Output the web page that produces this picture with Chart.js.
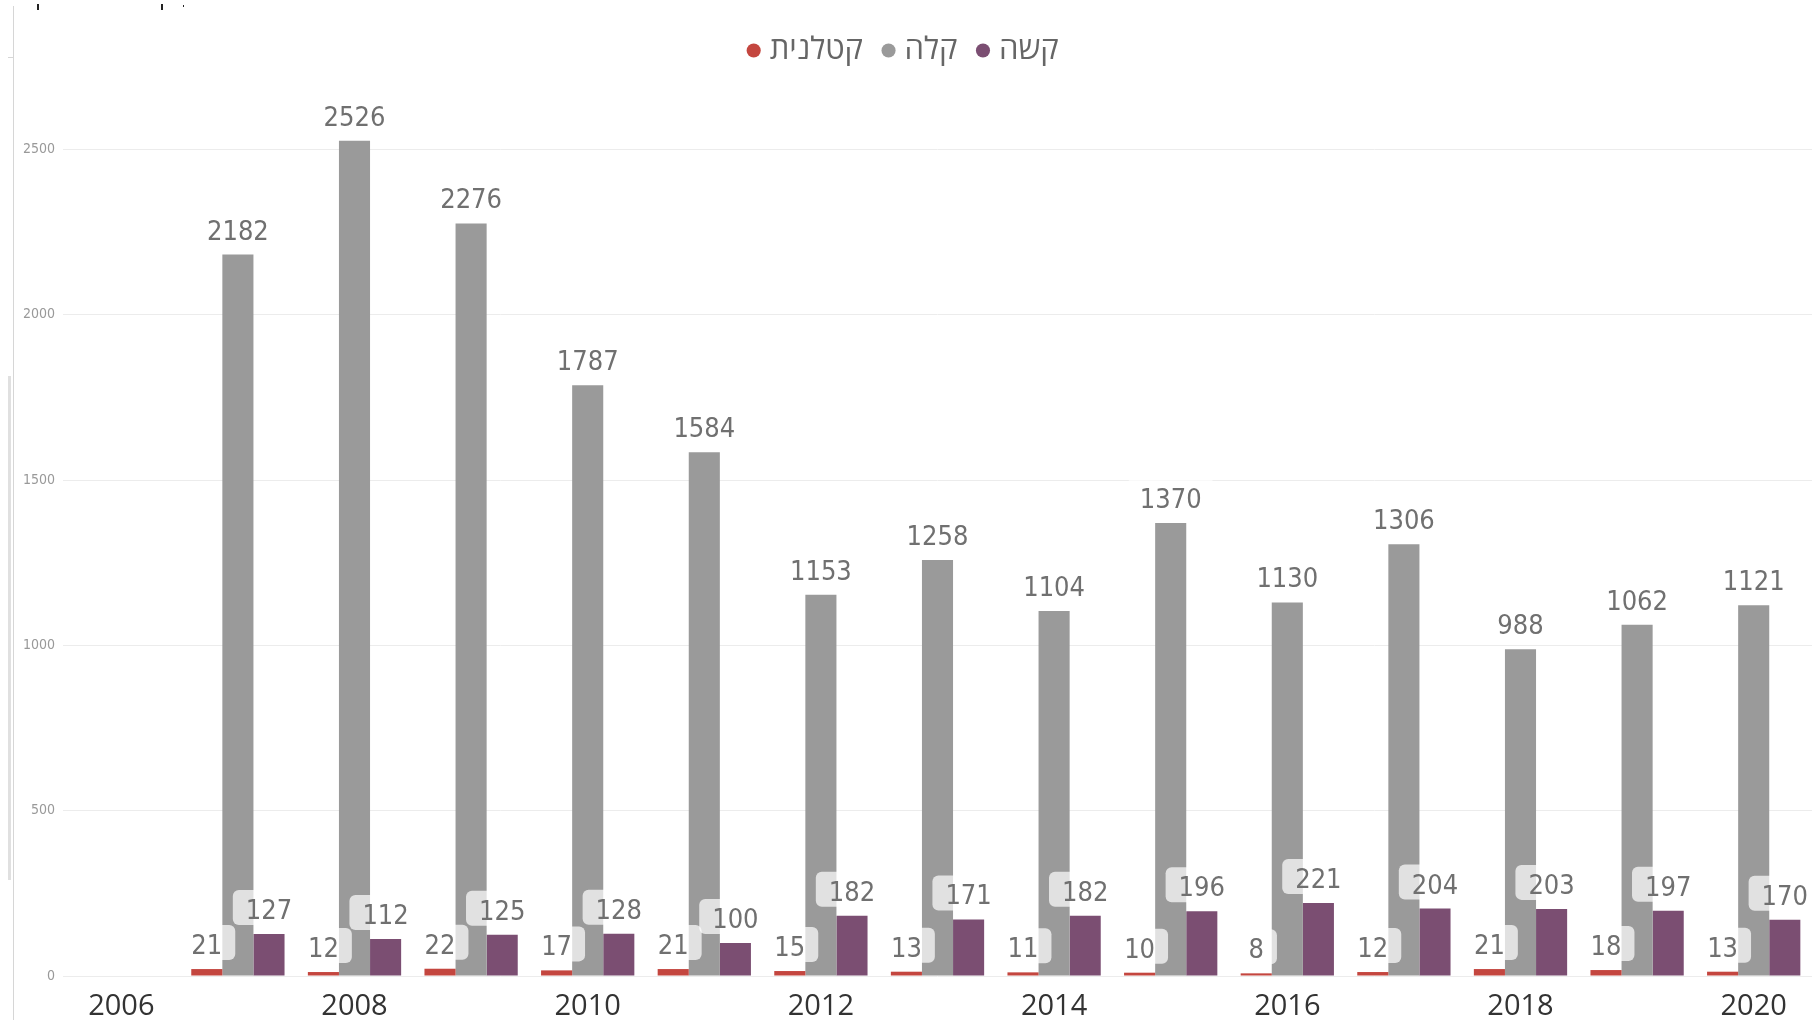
<!DOCTYPE html>
<html>
<head>
<meta charset="utf-8">
<script src="https://cdn.jsdelivr.net/npm/chart.js@4/dist/chart.umd.min.js"></script>
<style>
  html, body { margin: 0; padding: 0; background: #fff; }
  #wrap { position: relative; width: 1816px; height: 1020px; }
</style>
</head>
<body>
<div id="wrap"><canvas id="chart" width="1816" height="1020"></canvas></div>
<script>
// data (2006 has no values)
const years = ['2006','2007','2008','2009','2010','2011','2012','2013','2014','2015','2016','2017','2018','2019','2020'];
const fatal  = [null, 21, 12, 22, 17, 21, 15, 13, 11, 10, 8, 12, 21, 18, 13];
const light  = [null, 2182, 2526, 2276, 1787, 1584, 1153, 1258, 1104, 1370, 1130, 1306, 988, 1062, 1121];
const severe = [null, 127, 112, 125, 128, 100, 182, 171, 182, 196, 221, 204, 203, 197, 170];
const yTicks = [0, 500, 1000, 1500, 2000, 2500];
const seriesNames = ['קטלנית', 'קלה', 'קשה'];
const seriesColors = ['#c4463f', '#9a9a9a', '#7b4e72'];

const labelFont = "27px 'Liberation Sans Narrow', 'DejaVu Sans Condensed', Roboto, sans-serif";

// value labels on top of each bar, with a half transparent rounded box
const valueLabels = {
  id: 'valueLabels',
  afterDatasetsDraw(chart) {
    const ctx = chart.ctx;
    ctx.save();
    ctx.font = labelFont;
    ctx.textAlign = 'center';
    ctx.textBaseline = 'alphabetic';
    const items = [];
    chart.data.datasets.forEach((ds, i) => {
      chart.getDatasetMeta(i).data.forEach((bar, j) => {
        const v = ds.data[j];
        if (v == null) return;
        items.push({x: bar.x, y: bar.y - 15, txt: String(v)});
      });
    });
    ctx.fillStyle = 'rgba(255,255,255,0.7)';
    items.forEach(it => {
      const w = ctx.measureText(it.txt).width;
      ctx.beginPath();
      ctx.roundRect(it.x - w / 2 - 13, it.y - 29, w + 26, 35, 6);
      ctx.fill();
    });
    ctx.fillStyle = '#707070';
    items.forEach(it => ctx.fillText(it.txt, it.x, it.y));
    ctx.restore();
  }
};

// the thin frame lines on the left edge of the screenshot
const frame = {
  id: 'frame',
  beforeDraw(chart) {
    const ctx = chart.ctx;
    ctx.save();
    ctx.strokeStyle = '#d6d6d6';
    ctx.lineWidth = 1;
    ctx.beginPath();
    ctx.moveTo(13.5, 6); ctx.lineTo(13.5, 1020);
    ctx.moveTo(8, 57.5); ctx.lineTo(13, 57.5);
    ctx.stroke();
    ctx.strokeStyle = '#e0e0e0';
    ctx.lineWidth = 3;
    ctx.beginPath();
    ctx.moveTo(9.5, 376); ctx.lineTo(9.5, 880);
    ctx.stroke();
    ctx.fillStyle = '#222';
    ctx.fillRect(37, 4, 2, 6);
    ctx.fillRect(161, 4, 2, 6);
    ctx.fillRect(183, 5, 1, 2);
    ctx.restore();
  }
};

const ctx = document.getElementById('chart').getContext('2d');
new Chart(ctx, {
  type: 'bar',
  data: {
    labels: years,
    datasets: [
      { label: seriesNames[0], data: fatal,  backgroundColor: seriesColors[0], borderWidth: 0 },
      { label: seriesNames[1], data: light,  backgroundColor: seriesColors[1], borderWidth: 0 },
      { label: seriesNames[2], data: severe, backgroundColor: seriesColors[2], borderWidth: 0 },
    ]
  },
  options: {
    responsive: false,
    animation: false,
    devicePixelRatio: 1,
    layout: { padding: { top: 10, right: 4, left: 0, bottom: 0 } },
    datasets: { bar: { categoryPercentage: 0.8, barPercentage: 1.0 } },
    scales: {
      x: {
        grid: { display: false, drawTicks: false },
        border: { display: false },
        afterFit: s => { s.height = 44; },
        ticks: {
          autoSkip: false,
          maxRotation: 0,
          padding: 13,
          color: '#333',
          font: { size: 29, family: "'Open Sans', 'Liberation Sans', sans-serif" },
          callback: (v, i) => Number(years[i]) % 2 === 0 ? years[i] : ''
        }
      },
      y: {
        min: 0,
        max: 2722,
        afterBuildTicks: s => { s.ticks = yTicks.map(v => ({ value: v })); },
        afterFit: s => { s.width = 63; },
        grid: { color: '#ececec', drawTicks: false },
        border: { display: false },
        ticks: {
          padding: 8,
          color: '#999',
          font: { size: 14, family: "'Liberation Sans Narrow', 'DejaVu Sans Condensed', sans-serif" },
          callback: v => String(v)
        }
      }
    },
    plugins: {
      tooltip: { enabled: false },
      legend: {
        position: 'top',
        align: 'center',
        labels: {
          usePointStyle: true,
          pointStyle: 'circle',
          boxWidth: 1,
          boxHeight: 10,
          padding: 25,
          color: '#666',
          font: { size: 31, family: "'Open Sans', 'DejaVu Sans', sans-serif" }
        }
      }
    }
  },
  plugins: [valueLabels, frame]
});
</script>
</body>
</html>
